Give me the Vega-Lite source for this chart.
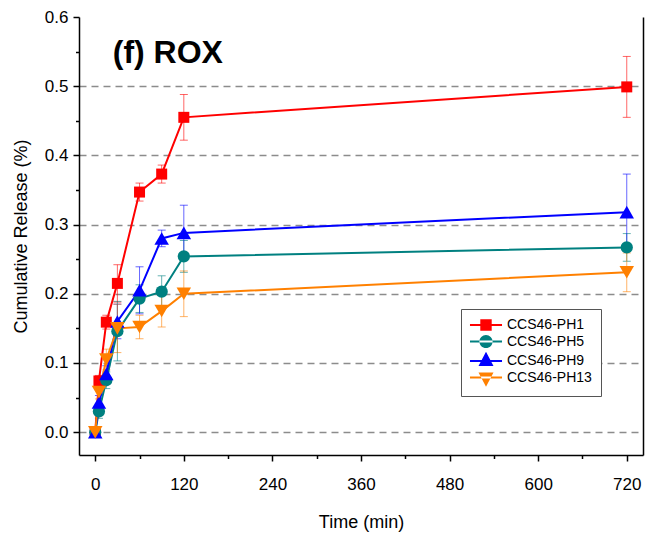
{
  "$schema": "https://vega.github.io/schema/vega-lite/v6.json",
  "width": 564,
  "height": 438,
  "autosize": {"type": "none"},
  "padding": {"left": 79, "top": 17, "right": 19, "bottom": 82},
  "background": "white",
  "data": {
    "values": [
      {"series": "CCS46-PH1", "time": 0, "value": 0.0, "err": 0.003},
      {"series": "CCS46-PH1", "time": 5, "value": 0.074, "err": 0.008},
      {"series": "CCS46-PH1", "time": 15, "value": 0.159, "err": 0.01},
      {"series": "CCS46-PH1", "time": 30, "value": 0.215, "err": 0.027},
      {"series": "CCS46-PH1", "time": 60, "value": 0.347, "err": 0.013},
      {"series": "CCS46-PH1", "time": 90, "value": 0.373, "err": 0.013},
      {"series": "CCS46-PH1", "time": 120, "value": 0.455, "err": 0.033},
      {"series": "CCS46-PH1", "time": 720, "value": 0.499, "err": 0.044},
      {"series": "CCS46-PH5", "time": 0, "value": 0.0, "err": 0.003},
      {"series": "CCS46-PH5", "time": 5, "value": 0.03, "err": 0.01},
      {"series": "CCS46-PH5", "time": 15, "value": 0.075, "err": 0.012},
      {"series": "CCS46-PH5", "time": 30, "value": 0.146, "err": 0.043},
      {"series": "CCS46-PH5", "time": 60, "value": 0.193, "err": 0.02},
      {"series": "CCS46-PH5", "time": 90, "value": 0.203, "err": 0.023},
      {"series": "CCS46-PH5", "time": 120, "value": 0.254, "err": 0.023},
      {"series": "CCS46-PH5", "time": 720, "value": 0.267, "err": 0.02},
      {"series": "CCS46-PH9", "time": 0, "value": 0.0, "err": 0.003},
      {"series": "CCS46-PH9", "time": 5, "value": 0.043, "err": 0.01},
      {"series": "CCS46-PH9", "time": 15, "value": 0.084, "err": 0.012},
      {"series": "CCS46-PH9", "time": 30, "value": 0.16, "err": 0.025},
      {"series": "CCS46-PH9", "time": 60, "value": 0.205, "err": 0.034},
      {"series": "CCS46-PH9", "time": 90, "value": 0.28, "err": 0.012},
      {"series": "CCS46-PH9", "time": 120, "value": 0.288, "err": 0.04},
      {"series": "CCS46-PH9", "time": 720, "value": 0.318, "err": 0.055},
      {"series": "CCS46-PH13", "time": 0, "value": 0.0, "err": 0.003},
      {"series": "CCS46-PH13", "time": 5, "value": 0.058, "err": 0.01},
      {"series": "CCS46-PH13", "time": 15, "value": 0.105, "err": 0.015},
      {"series": "CCS46-PH13", "time": 30, "value": 0.15, "err": 0.035},
      {"series": "CCS46-PH13", "time": 60, "value": 0.152, "err": 0.017},
      {"series": "CCS46-PH13", "time": 90, "value": 0.175, "err": 0.023},
      {"series": "CCS46-PH13", "time": 120, "value": 0.2, "err": 0.033},
      {"series": "CCS46-PH13", "time": 720, "value": 0.231, "err": 0.028}
    ]
  },
  "layer": [
    {
      "mark": {
        "type": "errorbar",
        "ticks": {"size": 8, "opacity": 0.6, "strokeWidth": 1},
        "rule": {"opacity": 0.6, "strokeWidth": 1}
      },
      "encoding": {
        "x": {"field": "time", "type": "quantitative", "title": "Time (min)", "scale": {"domain": [-22, 742], "nice": false, "zero": false}},
        "y": {"field": "value", "type": "quantitative", "scale": {"domain": [-0.033, 0.6], "nice": false, "zero": false}, "axis": null},
        "yError": {"field": "err"},
        "color": {"field": "series", "type": "nominal"}
      }
    },
    {
      "mark": {"type": "line", "strokeWidth": 2},
      "encoding": {
        "x": {
          "field": "time", "type": "quantitative",
          "title": "Time (min)",
          "axis": {
            "values": [0, 60, 120, 180, 240, 300, 360, 420, 480, 540, 600, 660, 720],
            "labelExpr": "datum.value % 120 === 0 ? datum.label : ''",
            "tickSize": {"condition": {"test": "datum.value % 120 === 0", "value": 6}, "value": 3.5},
            "grid": false
          }
        },
        "y": {
          "field": "value", "type": "quantitative",
          "title": "Cumulative Release (%)",
          "axis": {
            "values": [0, 0.05, 0.1, 0.15, 0.2, 0.25, 0.3, 0.35, 0.4, 0.45, 0.5, 0.55, 0.6],
            "labelExpr": "abs(datum.value*10 - round(datum.value*10)) < 0.01 ? format(datum.value, '.1f') : ''",
            "tickSize": {"condition": {"test": "abs(datum.value*10 - round(datum.value*10)) < 0.01", "value": 6}, "value": 3.5},
            "grid": true,
            "gridOpacity": {"condition": {"test": "abs(datum.value*10 - round(datum.value*10)) < 0.01 && datum.value < 0.55", "value": 1}, "value": 0}
          }
        },
        "color": {
          "field": "series", "type": "nominal",
          "scale": {"domain": ["CCS46-PH1", "CCS46-PH5", "CCS46-PH9", "CCS46-PH13"], "range": ["#ff0000", "#008080", "#0000ff", "#ff8000"]},
          "legend": {
            "orient": "none",
            "legendX": 382,
            "legendY": 292,
            "title": null,
            "strokeColor": "#555555",
            "fillColor": "white",
            "padding": 9,
            "symbolSize": 144,
            "symbolOffset": 9,
            "labelOffset": 14,
            "rowPadding": 2.5,
            "labelFontSize": 14,
            "labelFont": "Liberation Sans",
            "labelColor": "black",
            "encode": {
              "symbols": {
                "update": {
                  "shape": {"signal": "datum.value === 'CCS46-PH1' ? 'M-2.67,-0.17H2.67V0.17H-2.67Z M-0.95,-0.95H0.95V0.95H-0.95Z' : datum.value === 'CCS46-PH5' ? 'M-2.67,-0.17H2.67V0.17H-2.67Z M-1.1,0A1.1,1.1 0 1,0 1.1,0A1.1,1.1 0 1,0 -1.1,0Z' : datum.value === 'CCS46-PH9' ? 'M-2.67,-0.17H2.67V0.17H-2.67Z M0,-1.55L1.25,0.85H-1.25Z' : 'M-2.67,-0.17H2.67V0.17H-2.67Z M0,1.55L1.25,-0.85H-1.25Z'"},
                  "fill": {"scale": "color", "field": "value"},
                  "fillOpacity": {"value": 1},
                  "strokeWidth": {"value": 0},
                  "opacity": {"value": 1}
                }
              }
            }
          }
        }
      }
    },
    {
      "transform": [{"filter": "datum.series === 'CCS46-PH1'"}],
      "mark": {"type": "point", "shape": "square", "filled": true, "opacity": 1, "size": 121},
      "encoding": {
        "x": {"field": "time", "type": "quantitative", "title": "Time (min)"},
        "y": {
          "field": "value", "type": "quantitative",
          "axis": {"orient": "right", "labels": false, "ticks": false, "grid": false, "title": null, "domain": true}
        },
        "color": {"field": "series", "type": "nominal"}
      }
    },
    {
      "transform": [{"filter": "datum.series === 'CCS46-PH5'"}],
      "mark": {"type": "point", "shape": "circle", "filled": true, "opacity": 1, "size": 150},
      "encoding": {
        "x": {"field": "time", "type": "quantitative", "title": "Time (min)"},
        "y": {"field": "value", "type": "quantitative", "axis": null},
        "color": {"field": "series", "type": "nominal"}
      }
    },
    {
      "transform": [{"filter": "datum.series === 'CCS46-PH9'"}],
      "mark": {"type": "point", "shape": "triangle-up", "filled": true, "opacity": 1, "size": 210},
      "encoding": {
        "x": {"field": "time", "type": "quantitative", "title": "Time (min)"},
        "y": {"field": "value", "type": "quantitative", "axis": null},
        "color": {"field": "series", "type": "nominal"}
      }
    },
    {
      "transform": [{"filter": "datum.series === 'CCS46-PH13'"}],
      "mark": {"type": "point", "shape": "triangle-down", "filled": true, "opacity": 1, "size": 210},
      "encoding": {
        "x": {"field": "time", "type": "quantitative", "title": "Time (min)"},
        "y": {"field": "value", "type": "quantitative", "axis": null},
        "color": {"field": "series", "type": "nominal"}
      }
    },
    {
      "data": {"values": [{"label": "(f) ROX"}]},
      "mark": {"type": "text", "align": "left", "baseline": "alphabetic", "fontSize": 32, "fontWeight": "bold", "font": "Liberation Sans", "color": "black"},
      "encoding": {
        "text": {"field": "label", "type": "nominal"},
        "x": {"datum": 23.7, "type": "quantitative", "title": "Time (min)"},
        "y": {"datum": 0.533, "type": "quantitative", "axis": null}
      }
    }
  ],
  "resolve": {"axis": {"y": "independent"}},
  "config": {
    "view": {"stroke": null},
    "axis": {
      "domainColor": "black",
      "domainWidth": 1.5,
      "tickColor": "black",
      "tickWidth": 1.5,
      "labelFont": "Liberation Sans",
      "labelFontSize": 17,
      "labelColor": "black",
      "titleFont": "Liberation Sans",
      "titleFontSize": 18,
      "titleFontWeight": "normal",
      "titleColor": "black",
      "gridColor": "#8c8c8c",
      "gridDash": [7, 5],
      "gridWidth": 1.5
    },
    "axisX": {"labelPadding": 15, "titlePadding": 21},
    "axisY": {"labelPadding": 5, "titlePadding": 14, "labelFlush": false},
    "text": {"font": "Liberation Sans"}
  }
}
